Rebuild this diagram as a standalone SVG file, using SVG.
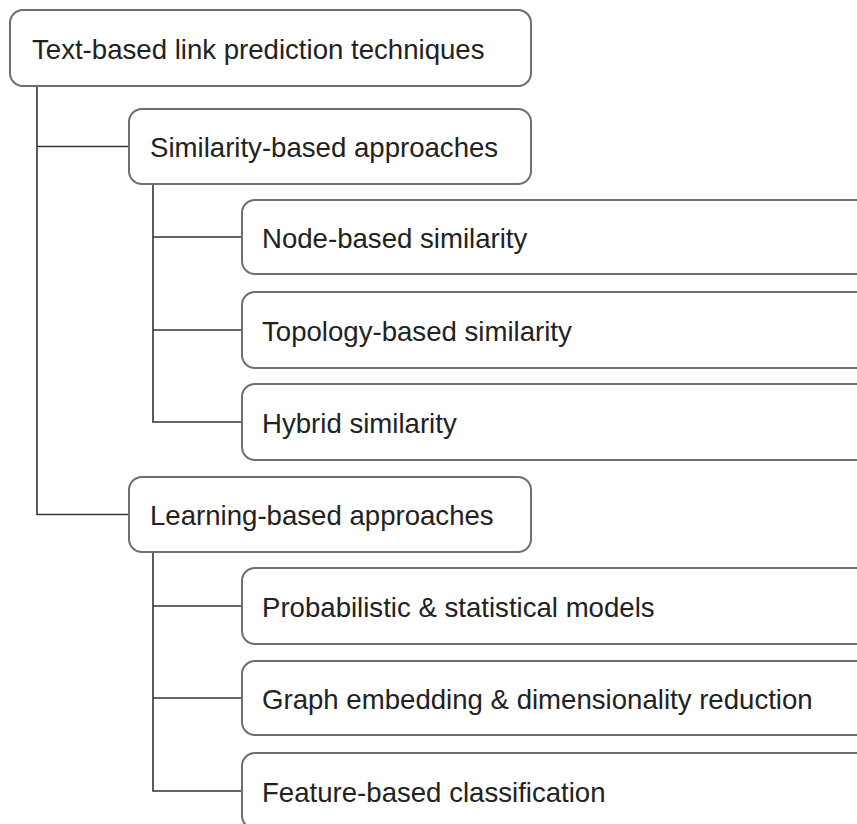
<svg xmlns="http://www.w3.org/2000/svg" width="857" height="824" viewBox="0 0 857 824">
  <style>
    .box { fill: #ffffff; stroke: #6e6e6e; stroke-width: 2; }
    .lbl { font-family: "Liberation Sans", Arial, sans-serif; font-size: 27.6px; fill: #222222; }
    .wire { fill: none; stroke: #333333; stroke-width: 1.6; }
  </style>
  <rect width="857" height="824" fill="#ffffff"/>

  <g id="connectors">
    <!-- root trunk -->
    <path class="wire" d="M37 86 V514.5 H129"/>
    <path class="wire" d="M37 146.5 H129"/>
    <!-- similarity branch -->
    <path class="wire" d="M153 184 V422 H242"/>
    <path class="wire" d="M153 237 H242"/>
    <path class="wire" d="M153 330 H242"/>
    <!-- learning branch -->
    <path class="wire" d="M153 552 V791 H242"/>
    <path class="wire" d="M153 606 H242"/>
    <path class="wire" d="M153 698 H242"/>
  </g>

  <g id="root">
    <rect class="box" x="10" y="10" width="521" height="76" rx="13"/>
    <text class="lbl" x="32" y="58.5">Text-based link prediction techniques</text>
  </g>

  <g id="similarity">
    <rect class="box" x="129" y="109" width="402" height="75" rx="13"/>
    <text class="lbl" x="150" y="157">Similarity-based approaches</text>
  </g>
  <g id="node-sim">
    <rect class="box" x="242" y="200" width="660" height="74" rx="13"/>
    <text class="lbl" x="262" y="247.5">Node-based similarity</text>
  </g>
  <g id="topology-sim">
    <rect class="box" x="242" y="292" width="660" height="76" rx="13"/>
    <text class="lbl" x="262" y="340.5">Topology-based similarity</text>
  </g>
  <g id="hybrid-sim">
    <rect class="box" x="242" y="384" width="660" height="76" rx="13"/>
    <text class="lbl" x="262" y="432.5">Hybrid similarity</text>
  </g>

  <g id="learning">
    <rect class="box" x="129" y="477" width="402" height="75" rx="13"/>
    <text class="lbl" x="150" y="525">Learning-based approaches</text>
  </g>
  <g id="probabilistic">
    <rect class="box" x="242" y="568" width="660" height="76" rx="13"/>
    <text class="lbl" x="262" y="616.5">Probabilistic &amp; statistical models</text>
  </g>
  <g id="embedding">
    <rect class="box" x="242" y="661" width="660" height="74" rx="13"/>
    <text class="lbl" x="262" y="708.5">Graph embedding &amp; dimensionality reduction</text>
  </g>
  <g id="feature">
    <rect class="box" x="242" y="753" width="660" height="76" rx="13"/>
    <text class="lbl" x="262" y="801.5">Feature-based classification</text>
  </g>
</svg>
